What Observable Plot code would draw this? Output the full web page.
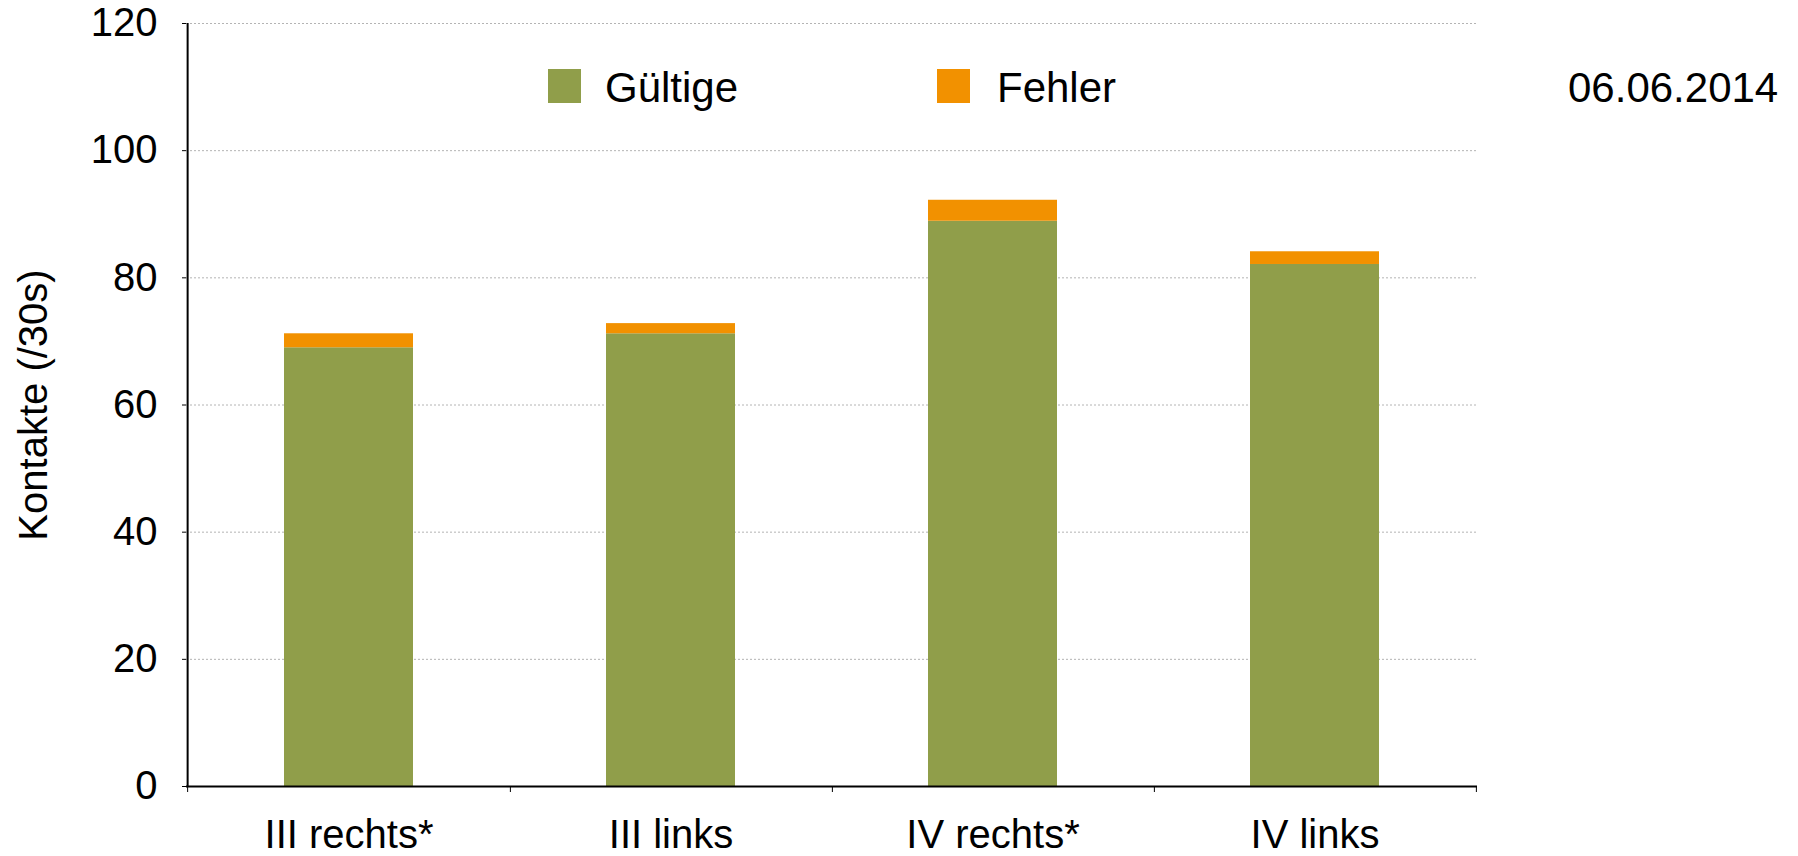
<!DOCTYPE html>
<html>
<head>
<meta charset="utf-8">
<script src="https://cdn.jsdelivr.net/npm/d3@7"></script>
<script src="https://cdn.jsdelivr.net/npm/@observablehq/plot@0.6"></script>
<style>
  html, body { margin: 0; padding: 0; background: #fff; }
  #wrap { position: relative; width: 1798px; height: 856px; font-family: "Liberation Sans", Arial, Helvetica, sans-serif; }
  .lg { position: absolute; font-size: 42px; line-height: 1; color: #000; white-space: nowrap; }
  .sw { position: absolute; width: 33px; height: 34px; }
</style>
</head>
<body>
<div id="wrap"></div>
<script>
const categories = ["III rechts*", "III links", "IV rechts*", "IV links"];
const gueltige = [69.0, 71.2, 88.9, 82.1];
const fehler = [2.2, 1.6, 3.3, 2.0];
const seriesNames = ["Gültige", "Fehler"];
const seriesColors = ["#909e4a", "#f29100"];
const yTicks = [0, 20, 40, 60, 80, 100, 120];
const dateLabel = "06.06.2014";
const yLabel = "Kontakte (/30s)";

const data = categories.flatMap((c, i) => [
  {cat: c, series: seriesNames[0], value: gueltige[i]},
  {cat: c, series: seriesNames[1], value: fehler[i]}
]);

const W = 1798, H = 856, ML = 186, MR = 321, MT = 23, MB = 70;
const step = (W - ML - MR) / categories.length;

const chart = Plot.plot({
  width: W, height: H,
  marginLeft: ML, marginRight: MR, marginTop: MT, marginBottom: MB,
  style: {fontFamily: "'Liberation Sans', Arial, Helvetica, sans-serif", fontSize: "40px", color: "#000", background: "#fff", overflow: "visible"},
  x: {domain: categories, paddingInner: 0.6, paddingOuter: 0.3, label: null},
  y: {domain: [0, 120], label: null},
  color: {domain: seriesNames, range: seriesColors},
  marks: [
    Plot.gridY(yTicks, {stroke: "#b4b4b4", strokeOpacity: 1, strokeDasharray: "2,2"}),
    Plot.barY(data, Plot.stackY({x: "cat", y: "value", fill: "series", order: seriesNames})),
    Plot.ruleY([0], {stroke: "#000", strokeWidth: 2}),
    Plot.ruleX([categories[0]], {dx: -step / 2, y1: 0, y2: 120, stroke: "#000", strokeWidth: 2}),
    Plot.axisY(yTicks, {tickSize: 4, tickPadding: 25, fontSize: 40, tickFormat: d => String(d),
      label: yLabel, labelAnchor: "center", labelOffset: 168, labelArrow: "none"}),
    Plot.axisX({tickSize: 0, tickPadding: 33, fontSize: 40, label: null}),
    Plot.axisX({tickSize: 6, tickFormat: () => "", dx: step / 2, label: null}),
    Plot.axisX([categories[0]], {tickSize: 6, tickFormat: () => "", dx: -step / 2, label: null})
  ]
});

const wrap = document.getElementById("wrap");
wrap.appendChild(chart);

// legend + date overlay
const legendItems = [
  {name: seriesNames[0], color: seriesColors[0], sx: 548, tx: 605},
  {name: seriesNames[1], color: seriesColors[1], sx: 937, tx: 997}
];
for (const it of legendItems) {
  const sw = document.createElement("div");
  sw.className = "sw";
  sw.style.left = it.sx + "px"; sw.style.top = "69px"; sw.style.background = it.color;
  wrap.appendChild(sw);
  const t = document.createElement("div");
  t.className = "lg";
  t.style.left = it.tx + "px"; t.style.top = "67px";
  t.textContent = it.name;
  wrap.appendChild(t);
}
const d = document.createElement("div");
d.className = "lg";
d.style.left = "1568px"; d.style.top = "67px";
d.textContent = dateLabel;
wrap.appendChild(d);
</script>
</body>
</html>
